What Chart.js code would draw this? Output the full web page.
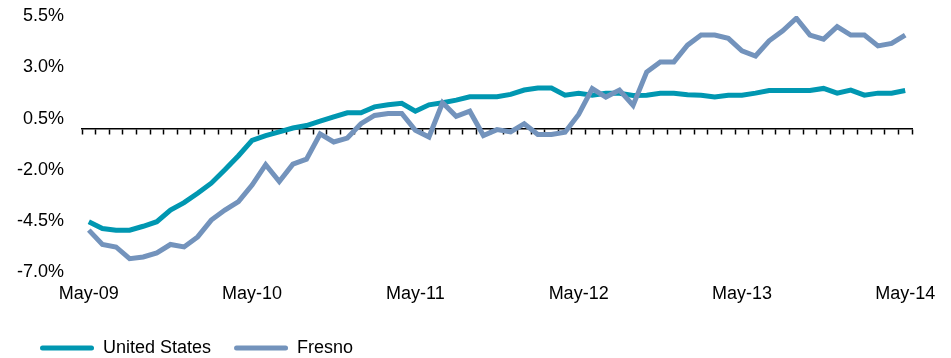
<!DOCTYPE html>
<html>
<head>
<meta charset="utf-8">
<script src="https://cdn.jsdelivr.net/npm/chart.js@4.4.1/dist/chart.umd.min.js"></script>
<style>
  html, body { margin: 0; padding: 0; background: #fff; }
  #wrap { width: 951px; height: 358px; position: relative; }
</style>
</head>
<body>
<div id="wrap"><canvas id="grafico"></canvas></div>
<script>
// Meses (categorias) de May-09 a May-14
const meses = [
  'May-09','Jun-09','Jul-09','Aug-09','Sep-09','Oct-09','Nov-09','Dec-09','Jan-10','Feb-10','Mar-10','Apr-10',
  'May-10','Jun-10','Jul-10','Aug-10','Sep-10','Oct-10','Nov-10','Dec-10','Jan-11','Feb-11','Mar-11','Apr-11',
  'May-11','Jun-11','Jul-11','Aug-11','Sep-11','Oct-11','Nov-11','Dec-11','Jan-12','Feb-12','Mar-12','Apr-12',
  'May-12','Jun-12','Jul-12','Aug-12','Sep-12','Oct-12','Nov-12','Dec-12','Jan-13','Feb-13','Mar-13','Apr-13',
  'May-13','Jun-13','Jul-13','Aug-13','Sep-13','Oct-13','Nov-13','Dec-13','Jan-14','Feb-14','Mar-14','Apr-14',
  'May-14'
];

// Rótulos exibidos no eixo X
const rotulosX = ['May-09', 'May-10', 'May-11', 'May-12', 'May-13', 'May-14'];

// Variação anual (%)
const estadosUnidos = [
  -4.53, -4.86, -4.94, -4.94, -4.75, -4.53, -3.96, -3.60, -3.14, -2.65, -2.00, -1.31,
  -0.56, -0.33, -0.15, 0.04, 0.16, 0.37, 0.58, 0.78, 0.78, 1.07, 1.17, 1.24,
  0.86, 1.17, 1.27, 1.40, 1.56, 1.56, 1.56, 1.68, 1.89, 1.99, 1.99, 1.64,
  1.73, 1.64, 1.73, 1.73, 1.63, 1.64, 1.73, 1.73, 1.66, 1.64, 1.55, 1.64,
  1.64, 1.74, 1.87, 1.87, 1.87, 1.87, 1.97, 1.74, 1.89, 1.64, 1.74, 1.74,
  1.87
];

const fresno = [
  -4.94, -5.64, -5.76, -6.33, -6.25, -6.05, -5.64, -5.76, -5.27, -4.45, -3.96, -3.55,
  -2.74, -1.75, -2.57, -1.72, -1.48, -0.25, -0.64, -0.45, 0.25, 0.65, 0.75, 0.75,
  -0.07, -0.40, 1.27, 0.61, 0.86, -0.33, -0.04, -0.15, 0.25, -0.28, -0.28, -0.17,
  0.70, 1.96, 1.55, 1.89, 1.14, 2.77, 3.26, 3.26, 4.08, 4.57, 4.57, 4.41,
  3.80, 3.55, 4.29, 4.78, 5.39, 4.57, 4.37, 4.98, 4.57, 4.57, 4.04, 4.16,
  4.57
];

const fonte = { family: 'Liberation Sans, Arial, sans-serif', size: 18 };

new Chart(document.getElementById('grafico'), {
  type: 'line',
  data: {
    labels: meses,
    datasets: [
      {
        label: 'United States',
        data: estadosUnidos,
        borderColor: '#0097B1',
        backgroundColor: '#0097B1',
        borderWidth: 5,
        pointRadius: 0,
        tension: 0,
        order: 1
      },
      {
        label: 'Fresno',
        data: fresno,
        borderColor: '#7393BC',
        backgroundColor: '#7393BC',
        borderWidth: 5,
        pointRadius: 0,
        tension: 0,
        order: 0
      }
    ]
  },
  options: {
    responsive: true,
    maintainAspectRatio: false,
    animation: false,
    layout: { padding: { left: 17, right: 39, top: 16, bottom: -9 } },
    scales: {
      // linha do zero com marcas entre os meses
      x: {
        type: 'category',
        position: { y: 0 },
        offset: true,
        grid: {
          display: true,
          drawOnChartArea: false,
          drawTicks: true,
          tickLength: 5,
          tickWidth: 1.5,
          color: '#000',
          offset: true
        },
        border: { display: true, color: '#000', width: 1.5 },
        ticks: { display: false }
      },
      // rótulos de ano na base
      x2: {
        type: 'category',
        position: 'bottom',
        offset: true,
        grid: { display: false, drawTicks: false },
        border: { display: false },
        ticks: {
          autoSkip: false,
          maxRotation: 0,
          padding: 11,
          color: '#000',
          font: fonte,
          callback: function (valor) {
            const rotulo = this.getLabelForValue(valor);
            return rotulosX.includes(rotulo) ? rotulo : '';
          }
        }
      },
      y: {
        min: -7,
        max: 5.5,
        grid: { display: false, drawTicks: false },
        border: { display: false },
        afterFit: escala => {
          escala.width = 65;
          escala.paddingTop = 0;
          escala.paddingBottom = 0;
        },
        ticks: {
          stepSize: 2.5,
          padding: 18,
          color: '#000',
          font: fonte,
          callback: v => v.toFixed(1) + '%'
        }
      }
    },
    plugins: {
      legend: {
        position: 'bottom',
        align: 'start',
        labels: {
          color: '#000',
          font: fonte,
          boxWidth: 54,
          boxHeight: 5,
          padding: 23,
          useBorderRadius: true,
          borderRadius: 2.5,
          sort: (a, b) => a.datasetIndex - b.datasetIndex,
          generateLabels: chart =>
            Chart.defaults.plugins.legend.labels.generateLabels(chart).map(l => ({
              ...l, lineWidth: 0, fillStyle: l.strokeStyle
            }))
        }
      },
      tooltip: { enabled: false }
    }
  }
});
</script>
</body>
</html>
